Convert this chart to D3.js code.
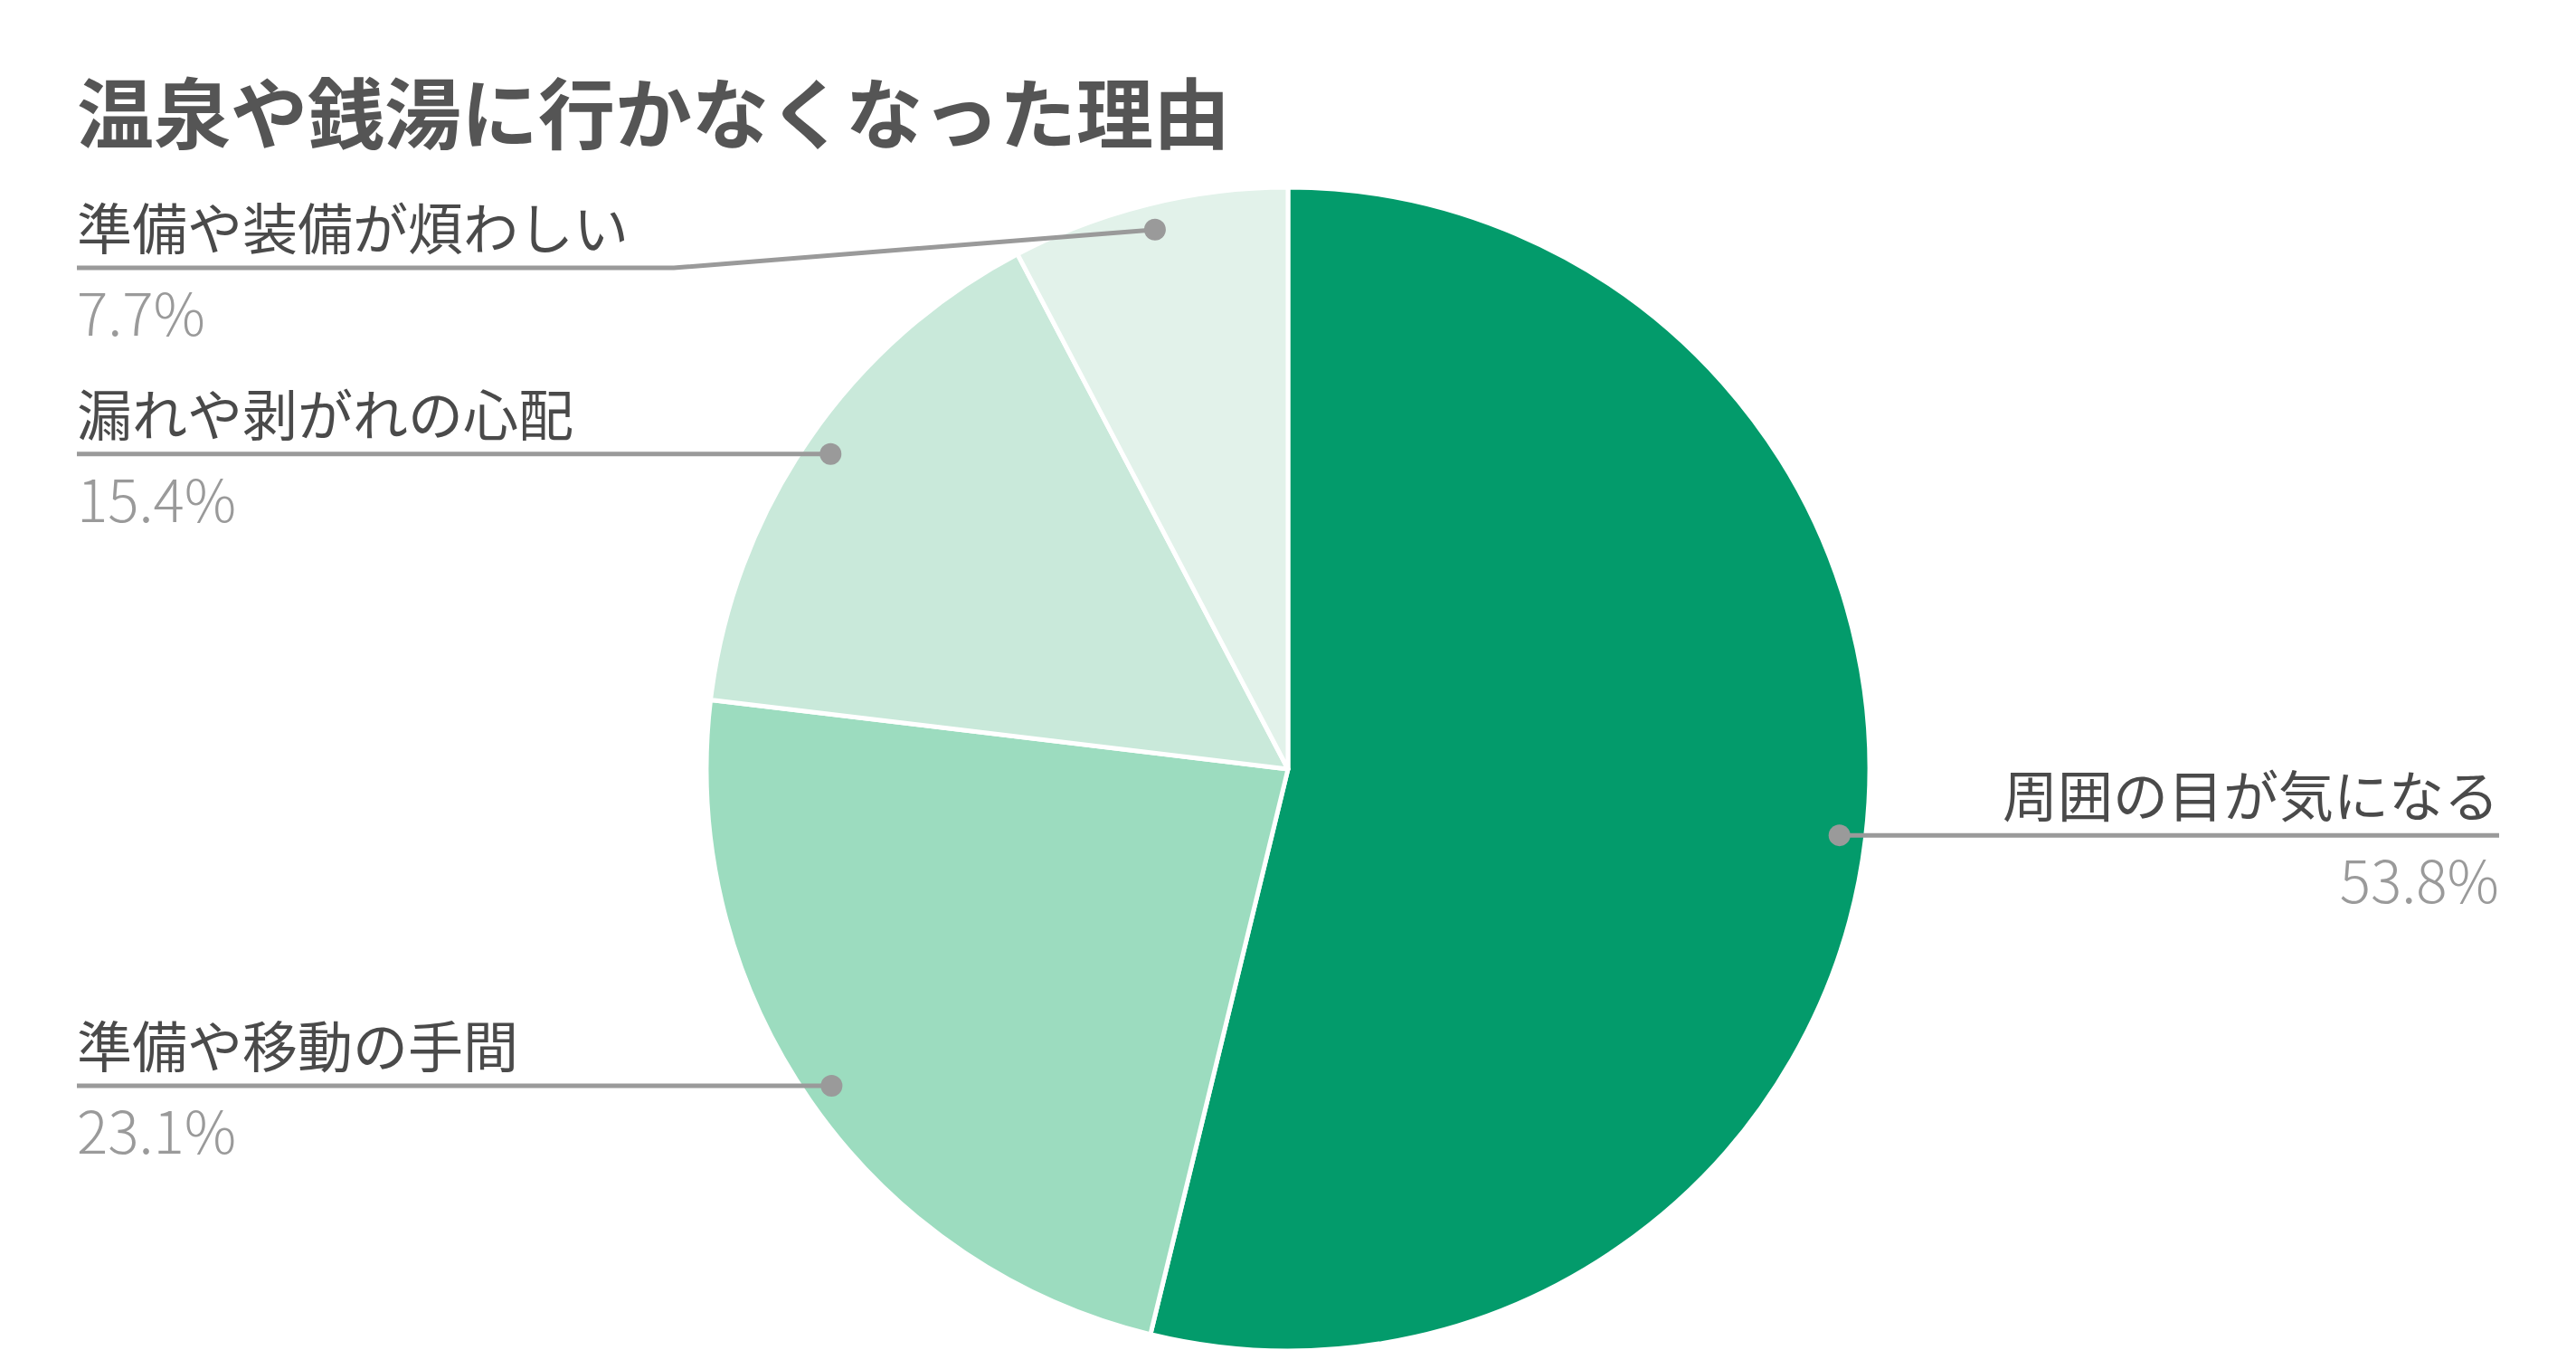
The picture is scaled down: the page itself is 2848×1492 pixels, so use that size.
<!DOCTYPE html>
<html lang="ja">
<head>
<meta charset="UTF-8">
<title>温泉や銭湯に行かなくなった理由</title>
<script src="https://d3js.org/d3.v7.min.js"></script>
<style>
  html, body { margin: 0; padding: 0; background: #ffffff; }
  svg { display: block; font-family: "Noto Sans CJK JP", "Noto Sans", sans-serif; }
</style>
</head>
<body>
<svg id="svg" width="2848" height="1492"></svg>
<script>
// data
const reasons = ['周囲の目が気になる', '準備や移動の手間', '漏れや剥がれの心配', '準備や装備が煩わしい'];
const shares = [53.8, 23.1, 15.4, 7.7];
const sliceColors = ['#039b6b', '#9cdcbf', '#c9e9da', '#e2f2ea'];

const svg = d3.select('#svg');
const W = 2848, H = 1492;
const cx = 1424, cy = 850, R = 643;

svg.append('rect').attr('width', W).attr('height', H).attr('fill', '#fff');

svg.append('text')
  .attr('x', 85).attr('y', 158)
  .attr('font-size', 85).attr('font-weight', 700)
  .attr('fill', '#555555')
  .text('温泉や銭湯に行かなくなった理由');

const rows = reasons.map((r, i) => ({ label: r, value: shares[i], color: sliceColors[i] }));

const pie = d3.pie().sort(null).value(d => d.value);
const arc = d3.arc().innerRadius(0).outerRadius(R);
const dotArc = d3.arc().innerRadius(R * 0.955).outerRadius(R * 0.955);

const g = svg.append('g').attr('transform', `translate(${cx},${cy})`);
const arcs = pie(rows);

g.selectAll('path.slice')
  .data(arcs)
  .join('path')
  .attr('class', 'slice')
  .attr('d', arc)
  .attr('fill', d => d.data.color)
  .attr('stroke', '#ffffff')
  .attr('stroke-width', 5)
  .attr('stroke-linejoin', 'round');

// label layout: side and where the leader line runs horizontally
const leftX = 85, rightX = 2763;
const lineY = [null, null, null, 296]; // only the smallest slice bends
const labels = svg.append('g');

arcs.forEach((d, i) => {
  const [dx, dy] = dotArc.centroid(d);
  const px = cx + dx, py = cy + dy;
  const right = dx > 0;
  const ly = lineY[i] == null ? py : lineY[i];
  let pts;
  if (right) {
    pts = [[px, py], [rightX, ly]];
  } else if (lineY[i] == null) {
    pts = [[px, py], [leftX, ly]];
  } else {
    pts = [[px, py], [745, ly], [leftX, ly]];
  }
  labels.append('path')
    .attr('d', d3.line()(pts))
    .attr('fill', 'none')
    .attr('stroke', '#9a9a9a')
    .attr('stroke-width', 5);
  labels.append('circle')
    .attr('cx', px).attr('cy', py).attr('r', 12)
    .attr('fill', '#9a9a9a');

  const tx = right ? rightX : leftX;
  const anchor = right ? 'end' : 'start';
  labels.append('text')
    .attr('x', tx).attr('y', ly - 20)
    .attr('text-anchor', anchor)
    .attr('font-size', 61)
    .attr('fill', '#4a4a4a')
    .text(d.data.label);
  labels.append('text')
    .attr('x', tx).attr('y', ly + 75)
    .attr('text-anchor', anchor)
    .attr('font-size', 64)
    .attr('font-weight', 300)
    .attr('fill', '#9a9a9a')
    .text(d3.format('.1f')(d.data.value) + '%');
});
</script>
</body>
</html>
